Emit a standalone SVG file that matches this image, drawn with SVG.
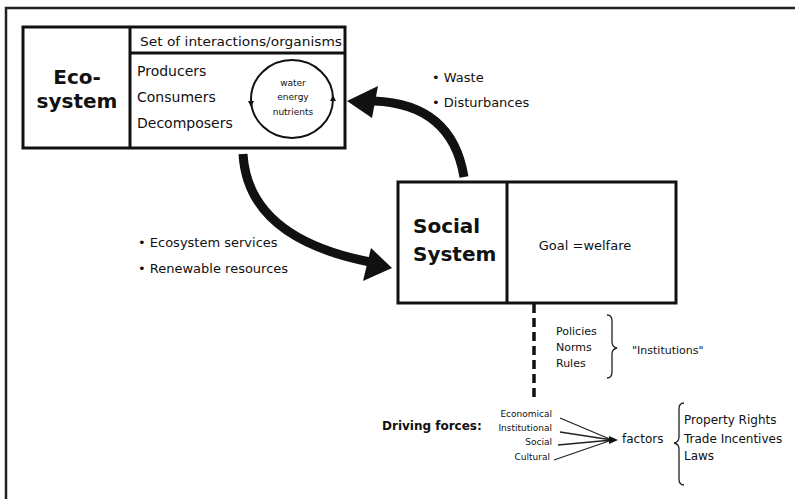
<svg xmlns="http://www.w3.org/2000/svg" width="795" height="499" viewBox="0 0 795 499">
<defs>
<style>
text{font-family:"DejaVu Sans","Liberation Sans",sans-serif;fill:#111}
.box{fill:#fff;stroke:#111;stroke-width:3}
.ln{stroke:#111;stroke-width:3;fill:none}
.title{font-weight:bold;font-size:20px}
.item{font-size:14px}
.small{font-size:9px}
.lbl{font-size:13px}
.thin{stroke:#222;stroke-width:1.3;fill:none}
.big{stroke:#111;stroke-width:9;fill:none}
</style>
</defs>
<rect width="795" height="499" fill="#fff"/>
<path d="M6 499 V8 H795" stroke="#222" stroke-width="2.5" fill="none"/>

<g id="ecosystem">
<rect class="box" x="23" y="27" width="322" height="121"/>
<line class="ln" x1="130" y1="27" x2="130" y2="148"/>
<line class="ln" x1="130" y1="53" x2="345" y2="53"/>
<text class="title" x="77" y="84" text-anchor="middle">Eco-</text>
<text class="title" x="77" y="108" text-anchor="middle">system</text>
<text x="140" y="46" font-size="13" textLength="202" lengthAdjust="spacingAndGlyphs">Set of interactions/organisms</text>
<text class="item" x="137" y="76">Producers</text>
<text class="item" x="137" y="102">Consumers</text>
<text class="item" x="137" y="128">Decomposers</text>
<ellipse cx="292" cy="99" rx="41" ry="39" fill="none" stroke="#111" stroke-width="2"/>
<path d="M248 101 L251 107 L254 101 Z" fill="#111"/>
<path d="M330 101 L333 95 L336 101 Z" fill="#111"/>
<text class="small" x="293" y="86" text-anchor="middle">water</text>
<text class="small" x="293" y="100" text-anchor="middle">energy</text>
<text class="small" x="293" y="115" text-anchor="middle">nutrients</text>
</g>

<g id="social-system">
<rect class="box" x="398" y="182" width="278" height="121"/>
<line class="ln" x1="507" y1="182" x2="507" y2="303"/>
<text class="title" x="413" y="233" font-size="21">Social</text>
<text class="title" x="413" y="261" font-size="21">System</text>
<text class="lbl" x="585" y="250" text-anchor="middle">Goal =welfare</text>
</g>

<g id="waste-labels">
<text class="lbl" x="432" y="82">• Waste</text>
<text class="lbl" x="432" y="107">• Disturbances</text>
</g>

<g id="services-labels">
<text class="lbl" x="138" y="247">• Ecosystem services</text>
<text class="lbl" x="138" y="273">• Renewable resources</text>
</g>

<g id="institutions">
<text font-size="11" x="556" y="335">Policies</text>
<text font-size="11" x="556" y="351">Norms</text>
<text font-size="11" x="556" y="367">Rules</text>
<path class="thin" d="M607 315 Q612 315 612 321 V342 Q612 347 617 348 Q612 349 612 354 V372 Q612 378 607 378"/>
<text font-size="11" x="632" y="354">"Institutions"</text>
</g>

<g id="driving-forces">
<text x="382" y="430" font-size="12" font-weight="bold">Driving forces:</text>
<text font-size="9" x="552" y="417" text-anchor="end">Economical</text>
<text font-size="9" x="552" y="431" text-anchor="end">Institutional</text>
<text font-size="9" x="552" y="445" text-anchor="end">Social</text>
<text font-size="9" x="550" y="460" text-anchor="end">Cultural</text>
<text font-size="12" x="622" y="443">factors</text>
<path class="thin" d="M684 403 Q679 403 679 409 V437 Q679 442 674 443 Q679 444 679 449 V479 Q679 485 684 485"/>
<text font-size="12" x="684" y="424">Property Rights</text>
<text font-size="12" x="684" y="443">Trade Incentives</text>
<text font-size="12" x="684" y="460">Laws</text>
</g>

<g id="connectors">
<path class="big" d="M464 177 Q452 104 374 101"/>
<path d="M347 101 L378 86 L372 118 Z" fill="#111"/>
<path class="big" d="M243 154 Q248 238 370 262"/>
<path d="M392 268 L371 248 L363 281 Z" fill="#111"/>
<line x1="534" y1="304" x2="534" y2="400" stroke="#111" stroke-width="3.5" stroke-dasharray="9 5"/>
<path class="thin" d="M560 418 L612 440 M560 432 L612 440 M558 445 L612 440 M554 460 L612 440"/>
<path d="M618 440 L609 436 L609 444 Z" fill="#111"/>
</g>
</svg>
